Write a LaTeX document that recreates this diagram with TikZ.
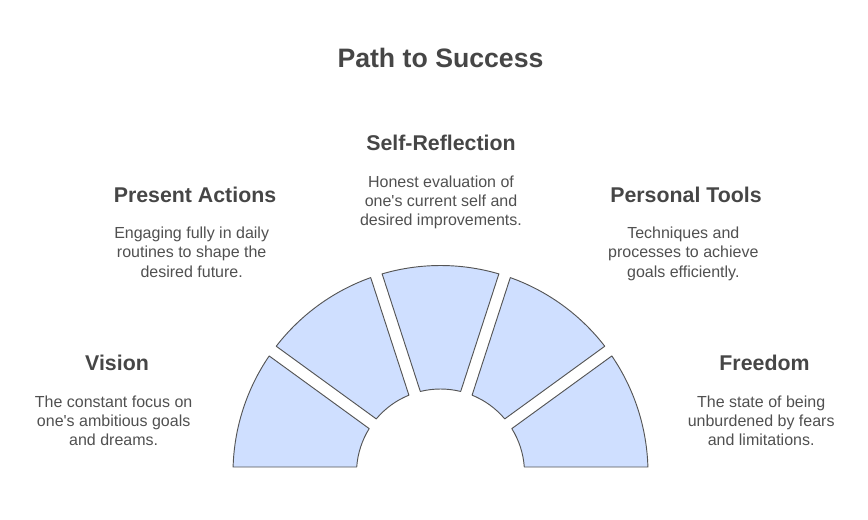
\documentclass[tikz,border=0pt]{standalone}
\usepackage{fontspec}
\setmainfont{Liberation Sans}
\usepackage{xcolor}
\usetikzlibrary{positioning}

\definecolor{segfill}{HTML}{CFDFFF}
\definecolor{segline}{HTML}{555555}
\definecolor{headtext}{HTML}{464646}
\definecolor{bodytext}{HTML}{505050}

\begin{document}
\begin{tikzpicture}[x=0.75pt, y=0.75pt,
    segment/.style={fill=segfill, draw=segline, line width=0.7pt, line join=round},
    title/.style={font=\fontsize{20}{24}\selectfont\bfseries, text=headtext, inner sep=0pt, anchor=base},
    heading/.style={font=\fontsize{16}{19.2}\selectfont\bfseries, text=headtext, inner sep=0pt, anchor=base},
    desc/.style={font=\fontsize{12}{14.4}\selectfont, text=bodytext, align=center, inner sep=0pt, anchor=north, below=18.3pt of #1}]
    \useasboundingbox (0,0) rectangle (868,519);

    % the five pieces of the half ring
    \foreach \k in {0,...,4}{
        \pgfmathsetmacro{\oa}{36*\k+asin(6/207.5)}
        \pgfmathsetmacro{\ob}{36*\k+36-asin(6/207.5)}
        \pgfmathsetmacro{\ia}{36*\k+36-asin(6/84)}
        \pgfmathsetmacro{\ib}{36*\k+asin(6/84)}
        \draw[segment, shift={(440.5,46)}] (\oa:155.625pt) arc[start angle=\oa, end angle=\ob, radius=155.625pt]
            -- (\ia:63pt) arc[start angle=\ia, end angle=\ib, radius=63pt] -- cycle;
    }

    \node[title] (title) at (440.5,451) {Path to Success};

    \node[heading] (refl) at (441,368.3) {Self-Reflection};
    \node[desc=refl] (refltxt) {Honest evaluation of\\one\textquotesingle s current self and\\desired improvements.};

    \node[heading] (actions) at (195,317) {Present Actions};
    \node[desc=actions, xshift=-2.5] (actionstxt) {Engaging fully in daily\\routines to shape the\\desired future.};

    \node[heading] (tools) at (686,317) {Personal Tools};
    \node[desc=tools, xshift=-2] (toolstxt) {Techniques and\\processes to achieve\\goals efficiently.};

    \node[heading] (vision) at (117,148.3) {Vision};
    \node[desc=vision, xshift=-2.5] (visiontxt) {The constant focus on\\one\textquotesingle s ambitious goals\\and dreams.};

    \node[heading] (freedom) at (764.5,148.3) {Freedom};
    \node[desc=freedom, xshift=-2.5] (freedomtxt) {The state of being\\unburdened by fears\\and limitations.};
\end{tikzpicture}
\end{document}
